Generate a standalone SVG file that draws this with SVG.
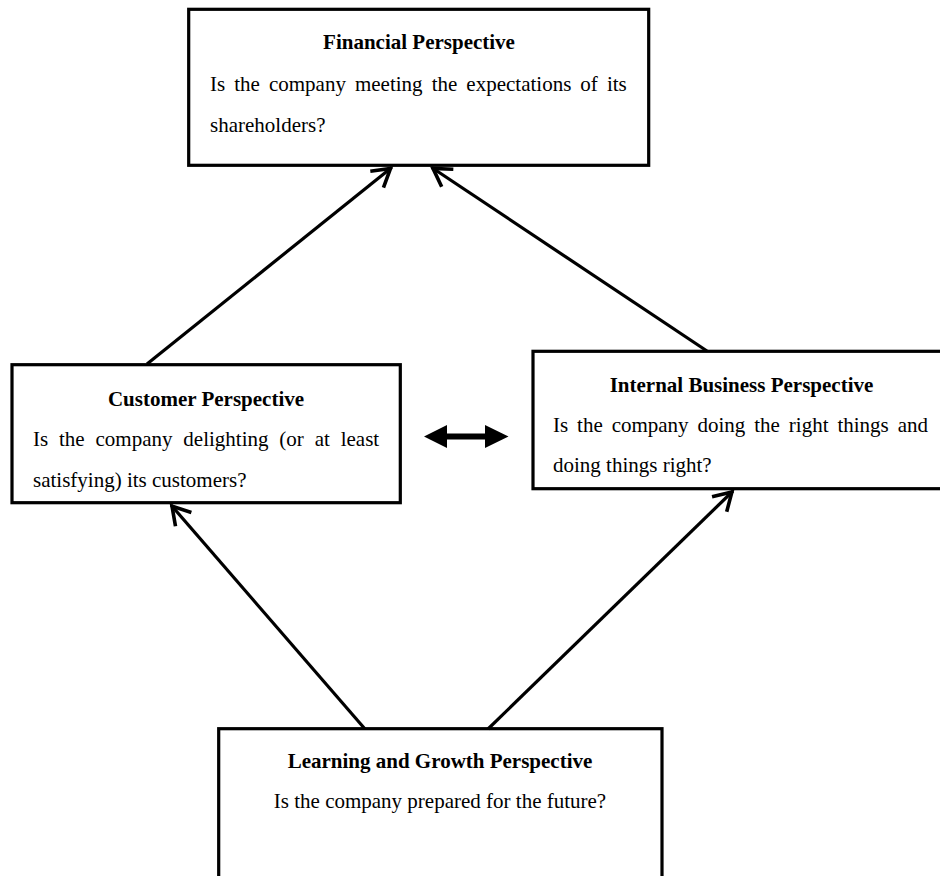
<svg xmlns="http://www.w3.org/2000/svg" width="940" height="876" viewBox="0 0 940 876">
  <style>
    .box { fill: #ffffff; stroke: #000000; stroke-width: 3.2; }
    .title { font-family: "Liberation Serif", "Times New Roman", serif; font-size: 21px; font-weight: bold; fill: #000000; text-anchor: middle; }
    .body { font-family: "Liberation Serif", "Times New Roman", serif; font-size: 21px; fill: #000000; }
    .conn { stroke: #000000; stroke-width: 3.2; fill: none; }
  </style>
  <defs>
    <marker id="open" markerUnits="userSpaceOnUse" markerWidth="40" markerHeight="40" refX="0" refY="0" orient="auto" overflow="visible" viewBox="-30 -20 40 40">
      <path d="M -19 -10.5 L -1.5 0 L -19 10.5" fill="none" stroke="#000000" stroke-width="3.6" stroke-linejoin="miter"/>
    </marker>
  </defs>
  <rect x="0" y="0" width="940" height="876" fill="#ffffff"/>

  <g id="financial">
    <rect class="box" x="188.7" y="9.3" width="460" height="156"/>
    <text class="title" x="419" y="49">Financial Perspective</text>
    <text class="body" x="210" y="91" word-spacing="3.8">Is the company meeting the expectations of its</text>
    <text class="body" x="210" y="132">shareholders?</text>
  </g>

  <g id="customer">
    <rect class="box" x="12" y="364.7" width="388.3" height="138"/>
    <text class="title" x="206" y="406">Customer Perspective</text>
    <text class="body" x="33" y="446" word-spacing="5.6">Is the company delighting (or at least</text>
    <text class="body" x="33" y="487">satisfying) its customers?</text>
  </g>

  <g id="internal">
    <rect class="box" x="533" y="351.3" width="418" height="137.4"/>
    <text class="title" x="741.5" y="392">Internal Business Perspective</text>
    <text class="body" x="553" y="432" word-spacing="3.66">Is the company doing the right things and</text>
    <text class="body" x="553" y="472">doing things right?</text>
  </g>

  <g id="learning">
    <rect class="box" x="218.7" y="728.7" width="443.3" height="200"/>
    <text class="title" x="440" y="768">Learning and Growth Perspective</text>
    <text class="body" x="440" y="808" text-anchor="middle">Is the company prepared for the future?</text>
  </g>

  <g id="connectors">
    <line class="conn" x1="147" y1="364" x2="391.7" y2="167.5" marker-end="url(#open)"/>
    <line class="conn" x1="707" y1="351" x2="431.7" y2="167.5" marker-end="url(#open)"/>
    <line class="conn" x1="365" y1="729" x2="171" y2="505" marker-end="url(#open)"/>
    <line class="conn" x1="488" y1="729" x2="733" y2="491" marker-end="url(#open)"/>
    <polygon fill="#000000" points="424,436.5 447,425 447,433.5 485,433.5 485,425 508.5,436.5 485,448 485,439.5 447,439.5 447,448"/>
  </g>
</svg>
